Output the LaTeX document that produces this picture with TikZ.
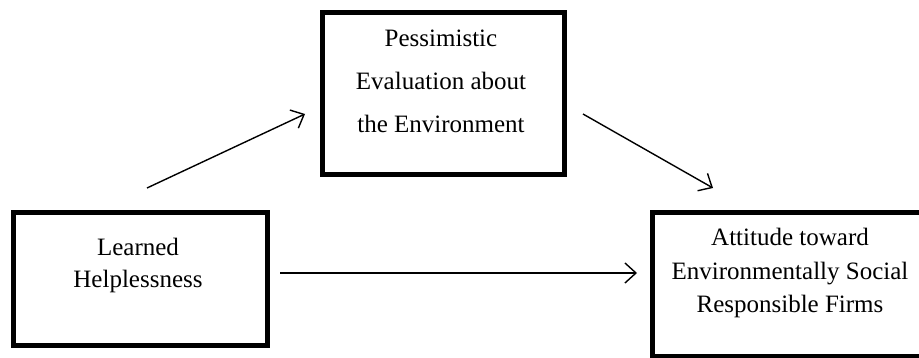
\documentclass[tikz,border=0pt]{standalone}
\usepackage{fontspec}
\setmainfont{Liberation Serif}
\usetikzlibrary{arrows.meta}
\begin{document}
\begin{tikzpicture}[x=1pt,y=-1pt,
  box/.style={draw=black, line width=4.6pt, inner sep=0pt},
  lbl/.style={align=center, inner sep=0pt, text=black},
  arr/.style={draw=black, line width=1.4pt, -{Straight Barb[length=11pt,width=20pt,line width=1.4pt]}}]
\useasboundingbox (0,0) rectangle (919,358);
\clip (0,0) rectangle (919,358);
\fill[white] (0,0) rectangle (919,358);
% boxes
\node[box, minimum width=242.5pt, minimum height=162.5pt] (pe) at (443.5,93.5) {};
\node[box, minimum width=254.5pt, minimum height=133.5pt] (lh) at (140.5,279) {};
\node[box, minimum width=276pt, minimum height=144pt, line width=4.2pt] (at) at (790.5,284.5) {};
% texts
\node[lbl, font=\fontsize{25}{43}\selectfont] (pet) at (441,81) {Pessimistic\\Evaluation about\\the Environment};
\node[lbl, font=\fontsize{25}{32}\selectfont] (lht) at (138,265) {Learned\\Helplessness};
\node[lbl, font=\fontsize{25}{33.5}\selectfont] (att) at (790,273) {Attitude toward\\Environmentally Social\\Responsible Firms};
% connector ends
\coordinate (a1s) at (147,188);
\coordinate (a1e) at (305,114);
\coordinate (a2s) at (583,114);
\coordinate (a2e) at (713,188);
\coordinate (a3s) at (280,273);
\coordinate (a3e) at (637,273);
\draw[arr] (a1s) -- (a1e);
\draw[arr] (a2s) -- (a2e);
\draw[arr] (a3s) -- (a3e);
\end{tikzpicture}
\end{document}
